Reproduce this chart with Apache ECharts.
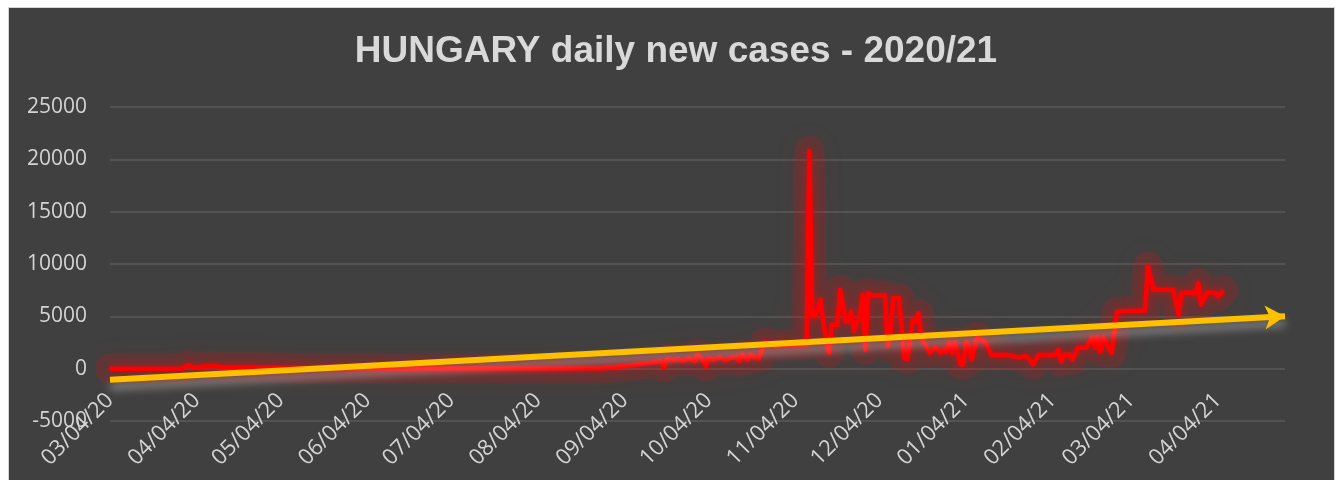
<!DOCTYPE html>
<html>
<head>
<meta charset="utf-8">
<title>HUNGARY daily new cases - 2020/21</title>
<script src="https://cdn.jsdelivr.net/npm/echarts@6/dist/echarts.min.js"></script>
<style>
	html, body { margin: 0; padding: 0; background: #ffffff; }
	#frame {
		position: absolute; left: 8px; top: 7px; width: 1325px; height: 480px;
		background: #404040; border: 1px solid #d4d4d4;
	}
	#chartContainer { position: absolute; left: 0; top: 0; width: 1338px; height: 480px; }
</style>
</head>
<body>
<div id="frame"></div>
<div id="chartContainer"></div>
<script>
// axis range (one category per day)
var firstDay = [2020, 3, 4];
var lastDay = [2021, 4, 28];

// month ticks shown under the chart
var tickLabels = ['03/04/20', '04/04/20', '05/04/20', '06/04/20', '07/04/20', '08/04/20', '09/04/20',
	'10/04/20', '11/04/20', '12/04/20', '01/04/21', '02/04/21', '03/04/21', '04/04/21'];

// daily new cases
var caseDates = ['03/04/20', '03/30/20', '04/01/20', '04/03/20', '04/09/20', '04/13/20', '04/23/20', '05/03/20',
	'05/18/20', '06/12/20', '07/12/20', '08/11/20', '08/27/20', '09/06/20', '09/14/20', '09/17/20', '09/18/20',
	'09/19/20', '09/21/20', '09/23/20', '09/25/20', '09/27/20', '09/29/20', '09/30/20', '10/02/20', '10/03/20',
	'10/04/20', '10/06/20', '10/08/20', '10/10/20', '10/12/20', '10/14/20', '10/15/20', '10/16/20', '10/18/20',
	'10/19/20', '10/21/20', '10/22/20', '10/23/20', '10/24/20', '10/26/20', '10/28/20', '10/30/20', '11/03/20',
	'11/06/20', '11/08/20', '11/09/20', '11/10/20', '11/11/20', '11/13/20', '11/14/20', '11/16/20', '11/17/20',
	'11/19/20', '11/20/20', '11/22/20', '11/23/20', '11/24/20', '11/25/20', '11/26/20', '11/27/20', '11/28/20',
	'11/29/20', '11/30/20', '12/01/20', '12/06/20', '12/07/20', '12/08/20', '12/09/20', '12/11/20', '12/13/20',
	'12/14/20', '12/16/20', '12/17/20', '12/18/20', '12/19/20', '12/20/20', '12/22/20', '12/24/20', '12/26/20',
	'12/27/20', '12/28/20', '12/29/20', '12/30/20', '12/31/20', '01/02/21', '01/03/21', '01/04/21', '01/05/21',
	'01/06/21', '01/08/21', '01/09/21', '01/11/21', '01/13/21', '01/16/21', '01/18/21', '01/20/21', '01/23/21',
	'01/25/21', '01/26/21', '01/28/21', '01/30/21', '02/02/21', '02/05/21', '02/06/21', '02/07/21', '02/08/21',
	'02/10/21', '02/11/21', '02/13/21', '02/16/21', '02/17/21', '02/18/21', '02/19/21', '02/20/21', '02/21/21',
	'02/22/21', '02/23/21', '02/24/21', '02/25/21', '02/27/21', '03/04/21', '03/09/21', '03/10/21', '03/12/21',
	'03/19/21', '03/21/21', '03/22/21', '03/26/21', '03/27/21', '03/28/21', '03/29/21', '03/31/21', '04/03/21',
	'04/04/21', '04/06/21'];
var caseValues = [0, 20, 350, 120, 250, 180, 150, 100,
	40, 10, 15, 20, 40, 300, 600, 700, 100,
	930, 800, 900, 750, 1000, 700, 1340, 850, 220,
	1000, 850, 1100, 800, 1050, 1150, 700, 1340, 850,
	1340, 1000, 1000, 1800, 2500, 2400, 2130, 2300, 2250,
	2300, 2300, 20800, 5000, 5000, 6600, 4350, 1500, 4200,
	4200, 7550, 4500, 4500, 5470, 3560, 4500, 4700, 7070,
	1800, 7230, 6980, 6980, 2130, 3400, 6750, 6750, 1000,
	900, 4700, 4500, 5300, 3000, 2500, 1500, 2000, 1500,
	1900, 1600, 2500, 1500, 2500, 400, 400, 2500, 2200,
	860, 3050, 2770, 2500, 1340, 1300, 1340, 1250, 1050,
	1200, 1100, 400, 1340, 1300, 1340, 1800, 670, 1340,
	1340, 860, 2000, 2000, 2500, 2960, 2000, 3050, 1600,
	3050, 2500, 2000, 1500, 5450, 5500, 5550, 9750, 7550,
	7550, 5150, 7250, 7250, 7200, 8200, 6100, 7250, 7250,
	6900, 7450];

// linear trend, start and end of the axis
var trendStart = -1050;
var trendEnd = 5000;

var option = null;

function pad(n) {
	return n < 10 ? '0' + n : '' + n;
}

function buildDays() {
	var days = [];
	var t = Date.UTC(firstDay[0], firstDay[1] - 1, firstDay[2]);
	var end = Date.UTC(lastDay[0], lastDay[1] - 1, lastDay[2]);
	while (t <= end) {
		var d = new Date(t);
		days.push(pad(d.getUTCMonth() + 1) + '/' + pad(d.getUTCDate()) + '/' + pad(d.getUTCFullYear() % 100));
		t += 86400000;
	}
	return days;
}

function initOption() {
	var days = buildDays();
	var casePoints = caseDates.map(function(d, i) { return [d, caseValues[i]]; });

	option = {
		animation: false,
		backgroundColor: 'transparent',
		title: {
			text: 'HUNGARY daily new cases - 2020/21',
			left: 671,
			top: 28,
			textAlign: 'center',
			textStyle: {
				fontFamily: '"Liberation Sans", Arial, sans-serif',
				fontSize: 37,
				fontWeight: 'bold',
				color: '#d9d9d9'
			}
		},
		grid: {
			left: 110,
			right: 53,
			top: 107,
			bottom: 59
		},
		xAxis: {
			type: 'category',
			data: days,
			boundaryGap: false,
			axisLine: { show: false },
			axisTick: { show: false },
			splitLine: { show: false },
			axisLabel: {
				interval: function(index, value) {
					return tickLabels.indexOf(value) !== -1;
				},
				rotate: 45,
				margin: -24,
				hideOverlap: false,
				fontFamily: '"Open Sans", sans-serif',
				fontSize: 22,
				color: '#d4d4d4'
			}
		},
		yAxis: {
			type: 'value',
			min: -5000,
			max: 25000,
			interval: 5000,
			axisLine: { show: false },
			axisTick: { show: false },
			splitLine: { lineStyle: { color: '#5a5a5a', width: 1.5 } },
			axisLabel: {
				margin: 23,
				formatter: function(v) { return String(v); },
				fontFamily: '"Open Sans", sans-serif',
				fontSize: 21,
				color: '#d4d4d4'
			}
		},
		series: [{
			// soft red glow under the line
			name: 'glow',
			type: 'line',
			data: casePoints,
			symbol: 'none',
			silent: true,
			z: 1,
			lineStyle: {
				color: 'rgba(255, 0, 0, 0.15)',
				width: 30,
				join: 'round',
				cap: 'round',
				shadowColor: 'rgba(255, 0, 0, 0.4)',
				shadowBlur: 24
			}
		}, {
			name: 'new cases',
			type: 'line',
			data: casePoints,
			symbol: 'none',
			z: 2,
			lineStyle: {
				color: '#ff0000',
				width: 4.5,
				join: 'round',
				shadowColor: 'rgba(255, 0, 0, 0.6)',
				shadowBlur: 8
			}
		}, {
			name: 'trend',
			type: 'line',
			data: [],
			z: 3,
			markLine: {
				silent: true,
				animation: false,
				symbol: ['none', 'arrow'],
				symbolSize: [18, 20],
				label: { show: false },
				lineStyle: {
					color: '#ffc000',
					width: 6,
					type: 'solid',
					shadowColor: 'rgba(255, 255, 255, 0.4)',
					shadowBlur: 9,
					shadowOffsetY: 7
				},
				data: [[
					{ coord: [days[0], trendStart] },
					{ coord: [days[days.length - 1], trendEnd] }
				]]
			}
		}]
	};
}

initOption();
var chartContainer = echarts.init(document.getElementById('chartContainer'));
chartContainer.setOption(option);
</script>
</body>
</html>
